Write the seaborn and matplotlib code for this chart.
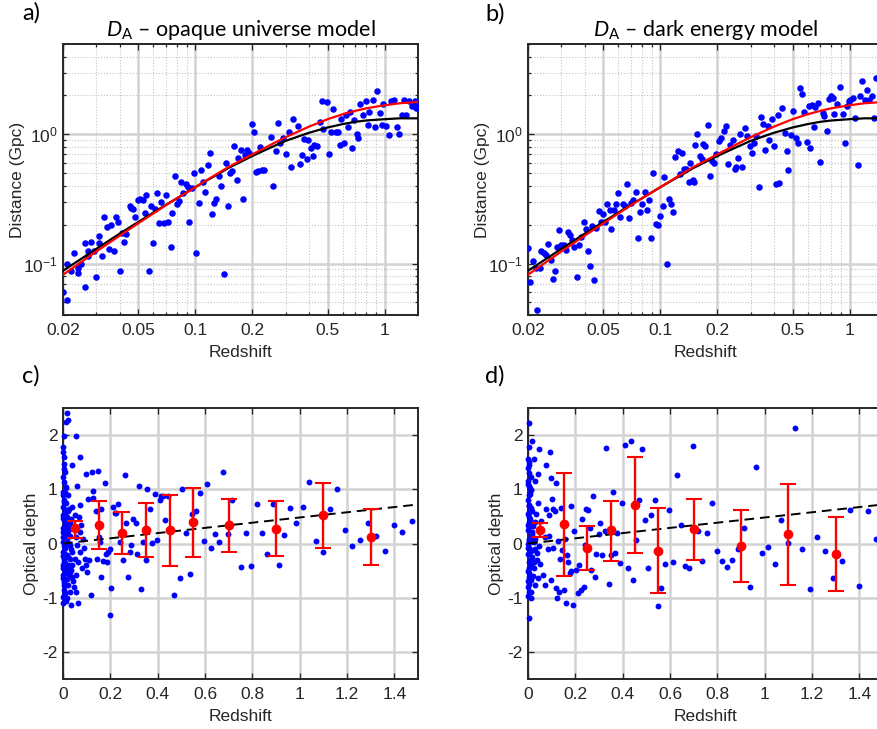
import numpy as np
import matplotlib
matplotlib.use("Agg")
import matplotlib.pyplot as plt
import matplotlib.ticker as mticker
import seaborn as sns

# ---------------- data ----------------
# top panels: angular distance (Gpc) vs redshift
z_a = [0.020, 0.021, 0.021, 0.022, 0.023, 0.024, 0.024, 0.025, 0.026, 0.026,
       0.027, 0.027, 0.028, 0.029, 0.030, 0.031, 0.031, 0.032, 0.033, 0.034,
       0.036, 0.035, 0.037, 0.038, 0.039, 0.040, 0.041, 0.042, 0.043, 0.045,
       0.046, 0.047, 0.048, 0.050, 0.051, 0.053, 0.054, 0.055, 0.057, 0.058,
       0.060, 0.061, 0.063, 0.064, 0.066, 0.068, 0.070, 0.072, 0.074, 0.075,
       0.078, 0.080, 0.082, 0.084, 0.086, 0.089, 0.091, 0.093, 0.096, 0.098,
       0.101, 0.104, 0.107, 0.110, 0.113, 0.116, 0.119, 0.123, 0.126, 0.129,
       0.133, 0.137, 0.141, 0.145, 0.149, 0.152, 0.157, 0.161, 0.165, 0.168,
       0.174, 0.178, 0.183, 0.188, 0.192, 0.198, 0.203, 0.208, 0.213, 0.219,
       0.224, 0.231, 0.250, 0.258, 0.266, 0.272, 0.281, 0.290, 0.302, 0.311,
       0.319, 0.327, 0.348, 0.356, 0.366, 0.375, 0.388, 0.395, 0.406, 0.416,
       0.424, 0.44, 0.455, 0.466, 0.475, 0.494, 0.51, 0.52, 0.533, 0.55,
       0.565, 0.58, 0.59, 0.61, 0.625, 0.64, 0.66, 0.67, 0.69, 0.71,
       0.725, 0.745, 0.77, 0.80, 0.815, 0.83, 0.865, 0.89, 0.91, 0.94,
       0.965, 0.98, 1.02, 1.05, 1.08, 1.12, 1.16, 1.19, 1.23, 1.26,
       1.30, 1.35, 1.39, 1.44, 1.49, 1.47]
d_a = [0.060, 0.099, 0.052, 0.087, 0.121, 0.092, 0.084, 0.100, 0.144, 0.066,
       0.114, 0.124, 0.146, 0.124, 0.079, 0.164, 0.144, 0.115, 0.231, 0.191,
       0.198, 0.129, 0.126, 0.231, 0.208, 0.087, 0.172, 0.146, 0.170, 0.277,
       0.270, 0.263, 0.228, 0.310, 0.316, 0.310, 0.245, 0.341, 0.088, 0.280,
       0.144, 0.265, 0.350, 0.205, 0.300, 0.205, 0.340, 0.210, 0.135, 0.248,
       0.473, 0.290, 0.305, 0.430, 0.350, 0.410, 0.390, 0.208, 0.385, 0.500,
       0.121, 0.295, 0.530, 0.430, 0.355, 0.580, 0.720, 0.240, 0.295, 0.316,
       0.473, 0.400, 0.083, 0.600, 0.280, 0.500, 0.520, 0.810, 0.440, 0.660,
       0.750, 0.316, 0.690, 0.750, 0.720, 1.21, 1.05, 0.51, 0.52, 0.80,
       0.53, 0.53, 0.95, 0.40, 0.74, 1.22, 0.86, 0.93, 0.70, 1.04,
       0.56, 1.31, 1.15, 0.59, 0.69, 0.92, 0.64, 0.91, 0.79, 0.68,
       0.82, 0.81, 1.25, 1.80, 1.09, 1.77, 0.70, 1.05, 1.57, 1.05,
       1.04, 0.82, 1.32, 0.86, 1.42, 1.14, 1.48, 0.79, 1.28, 1.0,
       0.94, 1.72, 1.40, 1.80, 1.19, 1.48, 1.83, 1.13, 2.18, 1.45,
       1.19, 1.73, 1.17, 0.98, 1.82, 1.83, 1.13, 1.0, 1.40, 1.83,
       1.40, 1.80, 1.65, 1.80, 1.65, 1.60]

z_b = [0.020, 0.0206, 0.0213, 0.022, 0.0224, 0.0231, 0.0235, 0.0242, 0.025, 0.0255,
       0.0263, 0.027, 0.0278, 0.0283, 0.0292, 0.030, 0.0308, 0.0316, 0.0325, 0.0334,
       0.0342, 0.0352, 0.0362, 0.0371, 0.0382, 0.0393, 0.0403, 0.0414, 0.0424, 0.0436,
       0.0447, 0.0458, 0.0472, 0.0485, 0.0495, 0.0511, 0.0524, 0.0539, 0.0552, 0.0568,
       0.0584, 0.0599, 0.0614, 0.0632, 0.0647, 0.0665, 0.0687, 0.0704, 0.0721, 0.0745,
       0.0763, 0.0782, 0.0802, 0.0825, 0.0848, 0.087, 0.0894, 0.092, 0.0946, 0.097,
       0.0999, 0.103, 0.105, 0.108, 0.111, 0.114, 0.117, 0.12, 0.124, 0.127,
       0.13, 0.133, 0.137, 0.141, 0.144, 0.148, 0.150, 0.153, 0.156, 0.162,
       0.165, 0.169, 0.173, 0.178, 0.183, 0.188, 0.193, 0.197, 0.204, 0.21,
       0.216, 0.222, 0.227, 0.234, 0.241, 0.247, 0.252, 0.257, 0.264, 0.27,
       0.279, 0.287, 0.296, 0.305, 0.313, 0.32, 0.331, 0.341, 0.348, 0.359,
       0.369, 0.377, 0.388, 0.398, 0.409, 0.417, 0.426, 0.44, 0.453, 0.466,
       0.475, 0.491, 0.505, 0.521, 0.534, 0.547, 0.561, 0.577, 0.594, 0.608,
       0.618, 0.634, 0.645, 0.66, 0.679, 0.699, 0.721, 0.736, 0.757, 0.776,
       0.798, 0.815, 0.831, 0.855, 0.89, 0.92, 0.943, 0.966, 0.99, 1.006,
       1.04, 1.07, 1.11, 1.14, 1.16, 1.2, 1.23, 1.27, 1.32, 1.35,
       1.38]
d_b = [0.131, 0.072, 0.105, 0.092, 0.044, 0.093, 0.125, 0.120, 0.117, 0.142,
       0.107, 0.076, 0.088, 0.134, 0.182, 0.138, 0.140, 0.128, 0.177, 0.167,
       0.153, 0.135, 0.079, 0.140, 0.160, 0.211, 0.185, 0.124, 0.096, 0.196,
       0.075, 0.19, 0.253, 0.211, 0.24, 0.208, 0.29, 0.258, 0.186, 0.261,
       0.29, 0.351, 0.228, 0.29, 0.28, 0.415, 0.225, 0.294, 0.312, 0.355,
       0.157, 0.249, 0.29, 0.355, 0.258, 0.312, 0.157, 0.501, 0.203, 0.198,
       0.234, 0.281, 0.467, 0.10, 0.317, 0.29, 0.252, 0.668, 0.738, 0.493,
       0.717, 0.541, 0.541, 0.43, 0.599, 0.445, 0.425, 0.82, 1.01, 0.675,
       0.644, 0.847, 0.807, 1.19, 0.472, 0.617, 0.599, 0.708, 0.887, 0.93,
       1.07, 1.15, 0.59, 0.82, 0.909, 0.541, 0.558, 0.655, 1.01, 0.555,
       1.12, 0.965, 0.807, 0.717, 0.857, 0.965, 0.39, 1.36, 1.2, 0.761,
       1.17, 0.909, 1.31, 0.807, 0.413, 1.40, 0.42, 1.6, 1.02, 0.739,
       0.526, 0.99, 1.51, 0.94, 0.857, 2.29, 2.05, 1.48, 0.88, 1.65,
       0.783, 1.70, 1.13, 1.63, 1.75, 0.61, 1.46, 1.38, 1.07, 1.89,
       1.97, 1.91, 1.44, 1.73, 2.33, 1.44, 0.85, 1.65, 1.8, 1.86,
       1.91, 1.34, 0.58, 1.97, 2.57, 1.86, 2.22, 1.83, 1.97, 1.34,
       2.73]

# model curves (same in both top panels)
z_model = [0.02, 0.025, 0.03, 0.04, 0.05, 0.06, 0.07, 0.08, 0.1, 0.12, 0.15,
           0.2, 0.25, 0.3, 0.4, 0.5, 0.6, 0.7, 0.8, 1.0, 1.2, 1.5]
d_red = [0.082, 0.103, 0.124, 0.165, 0.205, 0.244, 0.283, 0.32, 0.39, 0.46, 0.56,
         0.70, 0.83, 0.95, 1.15, 1.31, 1.43, 1.52, 1.59, 1.68, 1.74, 1.78]
d_black = [0.088, 0.109, 0.13, 0.171, 0.21, 0.248, 0.285, 0.32, 0.39, 0.455, 0.55,
           0.68, 0.79, 0.89, 1.03, 1.13, 1.20, 1.25, 1.28, 1.31, 1.33, 1.33]

# bottom panels: optical depth vs redshift
z_c = [0.017, 0.011, 0.021, 0.003, 0.0, 0.003, 0.003, 0.007, 0.003, 0.014,
       0.007, 0.021, 0.003, 0.014, 0.0, 0.025, 0.007, 0.017, 0.003, 0.028,
       0.011, 0.0, 0.021, 0.006, 0.031, 0.014, 0.0, 0.023, 0.008, 0.035,
       0.003, 0.017, 0.028, 0.006, 0.020, 0.0, 0.035, 0.011, 0.025, 0.003,
       0.042, 0.014, 0.003, 0.028, 0.006, 0.017, 0.0, 0.034, 0.065, 0.054,
       0.045, 0.056, 0.039, 0.049, 0.063, 0.070, 0.059, 0.054, 0.073, 0.042,
       0.068, 0.077, 0.056, 0.073, 0.039, 0.059, 0.073, 0.051, 0.085, 0.079,
       0.092, 0.087, 0.099, 0.110, 0.101, 0.120, 0.106, 0.127, 0.127, 0.096,
       0.124, 0.148, 0.138, 0.155, 0.144, 0.162, 0.152, 0.162, 0.169, 0.176,
       0.180, 0.190, 0.197, 0.186, 0.204, 0.197, 0.211, 0.218, 0.225, 0.232,
       0.242, 0.254, 0.261, 0.268, 0.275, 0.282, 0.289, 0.296, 0.307, 0.313,
       0.321, 0.331, 0.338, 0.349, 0.355, 0.366, 0.377, 0.387, 0.397, 0.408,
       0.415, 0.423, 0.431, 0.444, 0.468, 0.493, 0.504, 0.518, 0.535, 0.546,
       0.563, 0.577, 0.594, 0.608, 0.627, 0.642, 0.659, 0.676, 0.697, 0.715,
       0.754, 0.796, 0.775, 0.820, 0.841, 0.864, 0.887, 0.911, 0.935, 0.960,
       0.985, 1.012, 1.041, 1.069, 1.099, 1.127, 1.158, 1.190, 1.223, 1.255,
       1.287, 1.324, 1.359, 1.397, 1.434, 1.473,
       0.0, 0.0, 0.006, 0.0, 0.008, 0.0, 0.003, 0.011, 0.0, 0.006,
       0.0, 0.008, 0.0, 0.003, 0.0, 0.014, 0.025, 0.031, 0.037, 0.023,
       0.028, 0.039, 0.023, 0.034, 0.020, 0.039,
       0.0, 0.004, 0.0, 0.009, 0.0, 0.004, 0.013, 0.0, 0.018, 0.004,
       0.0, 0.009, 0.015, 0.0, 0.004, 0.026, 0.019, 0.010, 0.032, 0.015]
tau_c = [2.41, 2.24, 2.28, 1.98, 1.78, 1.60, 1.47, 1.32, 1.13, 1.04,
         0.95, 0.89, 0.80, 0.74, 0.67, 0.64, 0.57, 0.49, 0.43, 0.40,
         0.34, 0.28, 0.23, 0.17, 0.14, 0.09, 0.03, -0.02, -0.08, -0.10,
         -0.17, -0.21, -0.29, -0.34, -0.40, -0.46, -0.49, -0.55, -0.61, -0.67,
         -0.69, -0.77, -0.86, -0.89, -0.96, -1.01, -1.10, -1.13, -1.10, -0.89,
         -0.80, -0.58, -0.40, -0.28, -0.34, -0.15, -0.03, 0.12, 0.21, 0.33,
         0.49, 0.35, 1.98, 1.60, 1.44, 1.07, 0.71, 0.52, 0.09, -0.46,
         -0.29, -0.09, -0.40, -0.31, -0.52, -0.95, 0.82, 0.84, 0.96, 1.29,
         1.32, 1.33, 0.60, 0.03, -0.28, 0.63, 0.12, -0.61, -0.33, 1.12,
         -0.20, -0.15, -0.10, -0.34, -0.83, -1.32, 0.67, 0.57, 0.57, 0.72,
         0.03, -0.31, 1.27, 0.37, -0.61, -0.15, -0.03, 0.46, 0.37, -0.20,
         1.06, -0.84, 0.02, -0.31, 1.01, 0.63, 0.01, 0.92, 0.07, 0.81,
         0.88, 0.88, 0.43, 0.88, -0.95, -0.63, 1.00, 0.20, -0.57, 0.55,
         0.60, 0.94, 0.05, 1.09, -0.08, 0.18, 0.03, 1.32, 0.17, 0.80,
         -0.43, -0.41, 0.20, 0.72, 0.20, -0.20, 0.72, -0.40, 0.15, 0.66,
         0.37, 0.67, 1.13, 0.04, -0.15, 0.64, 1.01, 0.24, -0.04, 0.06,
         0.37, 0.14, -0.13, 0.34, 0.22, 0.42,
         0.95, 0.89, 0.77, 0.52, 0.39, 0.22, 0.10, 0.02, -0.15, -0.28,
         -0.40, -0.52, -0.64, -0.77, -0.98, -1.07, 0.26, -0.03, -0.15, -0.25,
         -0.52, -0.61, -0.77, 0.46, 0.60, 0.67,
         1.68, 1.38, 1.22, 0.62, 0.47, 0.31, 0.20, 0.12, 0.05, -0.05,
         -0.23, -0.36, -0.44, -0.58, -0.71, -0.45, -0.66, -0.92, 0.30, 0.18]

z_d = [0.003, 0.017, 0.006, 0.045, 0.092, 0.025, 0.003, 0.077, 0.042, 0.011,
       0.028, 0.099, 0.120, 0.003, 0.014, 0.003, 0.101, 0.042, 0.003, 0.077,
       0.106, 0.113, 0.141, 0.087, 0.017, 0.003, 0.028, 0.056, 0.003, 0.017,
       0.070, 0.087, 0.127, 0.003, 0.025, 0.085, 0.106, 0.006, 0.039, 0.017,
       0.134, 0.003, 0.049, 0.025, 0.006, 0.063, 0.042, 0.003, 0.028, 0.073,
       0.096, 0.003, 0.014, 0.120, 0.130, 0.124, 0.152, 0.162, 0.190, 0.003,
       0.144, 0.166, 0.169, 0.155, 0.183, 0.194, 0.176, 0.180, 0.204, 0.215,
       0.211, 0.223, 0.237, 0.228, 0.246, 0.254, 0.239, 0.261, 0.268, 0.282,
       0.275, 0.289, 0.299, 0.306, 0.314, 0.324, 0.331, 0.341, 0.349, 0.359,
       0.369, 0.377, 0.389, 0.399, 0.408, 0.423, 0.434, 0.444, 0.458, 0.469,
       0.482, 0.493, 0.507, 0.521, 0.535, 0.549, 0.563, 0.580, 0.596, 0.613,
       0.628, 0.645, 0.662, 0.680, 0.697, 0.718, 0.735, 0.756, 0.777, 0.799,
       0.820, 0.842, 0.863, 0.887, 0.911, 0.937, 0.962, 0.987, 1.014, 1.042,
       1.070, 1.099, 1.128, 1.159, 1.190, 1.221, 1.255, 1.289, 1.325, 1.361,
       1.398, 1.436, 1.471,
       0.0, 0.0, 0.006, 0.0, 0.008, 0.0, 0.011, 0.0, 0.006, 0.0,
       0.011, 0.0, 0.008, 0.0, 0.011, 0.0, 0.006, 0.0, 0.011, 0.0,
       0.020, 0.031, 0.036, 0.020, 0.034, 0.045,
       0.004, 0.0, 0.009, 0.004, 0.0, 0.015, 0.004, 0.0, 0.009, 0.020,
       0.004, 0.0, 0.014, 0.025, 0.004, 0.009, 0.030, 0.017]
tau_d = [2.23, 1.89, 1.78, 1.75, 1.69, 1.56, 1.50, 1.44, 1.29, 1.23,
         1.15, 1.21, 1.12, 1.07, 0.98, 0.89, 0.83, 0.75, 0.71, 0.63,
         0.64, 0.60, 0.66, 0.53, 0.60, 0.49, 0.40, 0.41, 0.31, 0.21,
         0.12, 0.13, 0.04, 0.09, 0.02, -0.10, -0.09, -0.09, -0.18, -0.25,
         -0.28, -0.34, -0.37, -0.46, -0.55, -0.58, -0.64, -0.74, -0.77, -0.77,
         -0.67, -0.89, -1.00, -0.82, -0.89, -1.01, -0.86, -1.09, -1.13, -1.38,
         -0.12, -0.21, -0.34, 0.09, 0.69, 0.23, -0.55, -0.51, -0.48, -0.40,
         -0.92, -0.86, -0.80, 0.46, 0.64, 0.61, -0.02, 0.29, -0.49, -0.61,
         0.87, -0.20, 0.17, 0.37, -0.21, 0.23, 1.77, -0.74, -0.21, 0.95,
         -0.17, 0.19, -0.36, 0.74, 1.81, -0.46, 1.90, -0.67, 0.06, 0.81,
         1.74, 0.44, -0.46, 0.52, 0.80, -1.15, -0.83, -0.37, 0.61, -0.35,
         1.26, 0.35, -0.42, -0.46, 1.79, 0.23, -0.32, 0.20, 0.75, -0.14,
         -0.32, -0.43, -0.31, -0.11, 0.29, -0.80, 1.41, -0.17, -0.07, -0.37,
         0.43, 0.01, 2.14, -0.11, -0.84, 0.12, -0.14, -0.64, -0.32, 0.61,
         -0.79, 0.60, 0.09,
         1.55, 1.40, 1.30, 1.15, 1.02, 0.80, 0.65, 0.55, 0.40, 0.25,
         0.15, 0.0, -0.15, -0.20, -0.40, -0.50, -0.62, -0.80, -0.90, -0.97,
         0.32, 0.08, -0.30, -0.60, 0.55, -0.05,
         1.45, 1.10, 0.92, 0.58, 0.35, 0.18, 0.05, -0.08, -0.30, -0.12,
         -0.45, -0.70, -0.68, -0.35, 0.70, 0.45, -0.10, 0.10]

# binned means with error bars
bin_z = [0.05, 0.15, 0.25, 0.35, 0.45, 0.55, 0.7, 0.9, 1.1, 1.3]
mean_c = [0.28, 0.34, 0.19, 0.25, 0.24, 0.39, 0.34, 0.27, 0.52, 0.12]
hi_c = [0.41, 0.79, 0.58, 0.74, 0.90, 1.02, 0.83, 0.78, 1.11, 0.64]
lo_c = [0.10, -0.11, -0.20, -0.25, -0.42, -0.25, -0.15, -0.23, -0.09, -0.40]
mean_d = [0.25, 0.36, -0.08, 0.24, 0.71, -0.13, 0.26, -0.05, 0.17, -0.19]
hi_d = [0.37, 1.30, 0.33, 0.79, 1.60, 0.66, 0.83, 0.61, 1.10, 0.49]
lo_d = [0.12, -0.60, -0.48, -0.32, -0.18, -0.91, -0.31, -0.71, -0.77, -0.88]

# dashed trend
trend_z = [0.0, 1.5]
trend_tau = [0.0, 0.72]

# ---------------- style ----------------
sns.set_style("ticks")
plt.rcParams['font.family'] = ['Liberation Sans', 'DejaVu Sans']
plt.rcParams['mathtext.fontset'] = 'custom'
plt.rcParams['mathtext.it'] = 'Lato:italic'
plt.rcParams['mathtext.rm'] = 'Lato'
plt.rcParams['axes.unicode_minus'] = False

TXT = '#262626'
BLUE = '#0000ff'
RED = '#ff0000'
FS = 12.5

fig = plt.figure(figsize=(8.77, 7.29), dpi=100)
W, H = 877, 729


def box(x0, y0, x1, y1):
    return [x0 / W, 1 - y1 / H, (x1 - x0) / W, (y1 - y0) / H]


ax_a = fig.add_axes(box(63, 44, 418, 315))
ax_b = fig.add_axes(box(528, 44, 883, 315))
ax_c = fig.add_axes(box(63, 408, 418, 679))
ax_d = fig.add_axes(box(528, 408, 883, 679))


def common(ax, xlabel, ylabel, ylab_x):
    ax.set_axisbelow(True)
    for s in ax.spines.values():
        s.set_linewidth(1.4)
        s.set_color(TXT)
        s.set_visible(True)
    ax.tick_params(which='both', direction='in', top=True, right=True,
                   colors=TXT, labelsize=FS, width=0.9)
    ax.tick_params(which='major', length=4.5)
    ax.tick_params(which='minor', length=2.5)
    ax.tick_params(axis='x', which='major', pad=6)
    ax.tick_params(axis='y', which='major', pad=4)
    ax.set_xlabel(xlabel, color=TXT, fontsize=FS)
    ax.set_ylabel(ylabel, color=TXT, fontsize=FS)
    ax.xaxis.label.set_verticalalignment('center')
    ax.yaxis.label.set_verticalalignment('center')
    ax.xaxis.set_label_coords(0.5, -0.14)
    ax.yaxis.set_label_coords(ylab_x, 0.5)


def top_panel(ax, z, d, title):
    ax.set_xscale('log')
    ax.set_yscale('log')
    ax.grid(which='major', color='#d2d2d2', lw=1.8, ls='-')
    ax.grid(which='minor', color='#c4c4c4', lw=0.8, ls=(0, (1, 1.6)))
    sns.scatterplot(x=z, y=d, ax=ax, color=BLUE, s=22, linewidth=0, zorder=3)
    sns.lineplot(x=z_model, y=d_black, ax=ax, color='black', lw=1.6,
                 estimator=None, sort=False, zorder=4)
    sns.lineplot(x=z_model, y=d_red, ax=ax, color=RED, lw=1.6,
                 estimator=None, sort=False, zorder=5)
    ax.set_xlim(0.02, 1.5)
    ax.set_ylim(0.04, 5.0)
    ax.xaxis.set_major_locator(mticker.FixedLocator([0.02, 0.05, 0.1, 0.2, 0.5, 1]))
    ax.xaxis.set_major_formatter(mticker.FixedFormatter(['0.02', '0.05', '0.1', '0.2', '0.5', '1']))
    ax.xaxis.set_minor_locator(mticker.FixedLocator(
        [0.03, 0.04, 0.06, 0.07, 0.08, 0.09, 0.3, 0.4, 0.6, 0.7, 0.8, 0.9]))
    ax.xaxis.set_minor_formatter(mticker.NullFormatter())
    ax.yaxis.set_major_locator(mticker.FixedLocator([0.1, 1]))
    ax.yaxis.set_major_formatter(mticker.LogFormatterSciNotation())
    ax.yaxis.set_minor_locator(mticker.LogLocator(base=10, subs=np.arange(2, 10), numticks=20))
    ax.yaxis.set_minor_formatter(mticker.NullFormatter())
    common(ax, 'Redshift', 'Distance (Gpc)', -0.127)
    ax.set_title(title, family='Lato', fontsize=15.5, color='black', pad=6)


def bottom_panel(ax, z, tau, mean, hi, lo):
    ax.grid(which='major', color='#d2d2d2', lw=1.8, ls='-')
    sns.scatterplot(x=z, y=tau, ax=ax, color=BLUE, s=18, linewidth=0,
                    zorder=3, clip_on=False)
    sns.lineplot(x=trend_z, y=trend_tau, ax=ax, color='black', lw=1.4,
                 dashes=False, linestyle=(0, (5, 3)), estimator=None, zorder=4)
    m = np.array(mean)
    yerr = [m - np.array(lo), np.array(hi) - m]
    ax.errorbar(bin_z, mean, yerr=yerr, fmt='o', color=RED, ms=6,
                elinewidth=1.7, capsize=5.5, capthick=1.5, zorder=5)
    ax.set_xlim(0, 1.5)
    ax.set_ylim(-2.5, 2.5)
    ax.set_xticks([0, 0.2, 0.4, 0.6, 0.8, 1.0, 1.2, 1.4])
    ax.set_xticklabels(['0', '0.2', '0.4', '0.6', '0.8', '1', '1.2', '1.4'])
    ax.set_yticks([-2, -1, 0, 1, 2])
    ax.set_yticklabels(['-2', '-1', '0', '1', '2'])
    common(ax, 'Redshift', 'Optical depth', -0.090)


top_panel(ax_a, z_a, d_a, r'$D_\mathrm{A}$ – opaque universe model')
top_panel(ax_b, z_b, d_b, r'$D_\mathrm{A}$ – dark energy model')
bottom_panel(ax_c, z_c, tau_c, mean_c, hi_c, lo_c)
bottom_panel(ax_d, z_d, tau_d, mean_d, hi_d, lo_d)

for lab, x, y in [('a)', 22, 13), ('b)', 485, 14), ('c)', 22, 376), ('d)', 485, 376)]:
    fig.text(x / W, 1 - y / H, lab, family='Lato', fontsize=17, color='black',
             ha='left', va='center')

fig.savefig('out.png', dpi=100)
